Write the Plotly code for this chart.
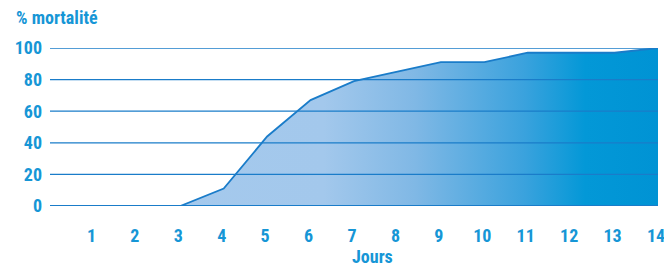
import plotly.graph_objects as go

days = list(range(0, 15))
mortality = [0, 0, 0, 0, 11, 44, 67, 79, 85, 91, 91, 97, 97, 97, 100]
x_ticks = list(range(1, 15))
y_ticks = [0, 20, 40, 60, 80, 100]

blue_text = "#1696d6"
line_col = "#1a7cc9"
font_fam = "Liberation Sans Narrow, Roboto Condensed, Arial Narrow, sans-serif"

fig = go.Figure()
fig.add_trace(go.Scatter(
    x=days, y=mortality, mode="lines",
    line=dict(color=line_col, width=1.8),
    fill="tozeroy",
    fillgradient=dict(type="horizontal", colorscale=[
        [0.0, "#a6caed"], [0.45, "#a3c8ec"], [0.6, "#80b8e5"],
        [0.78, "#3aa2dd"], [0.88, "#0398d7"], [1.0, "#0093d4"]]),
    cliponaxis=False, hoverinfo="skip", showlegend=False,
))

shapes = []
for yv in y_ticks:
    shapes.append(dict(type="line", xref="x", yref="y", x0=0, x1=14, y0=yv, y1=yv,
                       line=dict(color=line_col, width=2 if yv == 0 else 1.3), layer="above"))

tf = dict(family=font_fam, size=18, color=blue_text, weight="bold")
PW = 608
fig.update_layout(
    width=664, height=265,
    margin=dict(l=50, r=6, t=48, b=59, pad=0),
    paper_bgcolor="white", plot_bgcolor="white",
    shapes=shapes,
    xaxis=dict(range=[0, 14], tickvals=x_ticks, ticktext=[str(v) for v in x_ticks],
               showgrid=False, zeroline=False, showline=False, ticks="",
               tickfont=tf, ticklabelstandoff=17, automargin=False,
               ticklabeloverflow="allow", ticklabelshift=-2),
    yaxis=dict(range=[0, 100], tickvals=y_ticks, ticktext=[str(v) for v in y_ticks],
               showgrid=False, zeroline=False, showline=False, ticks="",
               tickfont=tf, ticklabelstandoff=7, automargin=False),
    annotations=[
        dict(text="% mortalité", xref="paper", yref="paper", x=-36 / PW, y=1,
             xanchor="left", yanchor="middle", yshift=31, showarrow=False,
             font=tf),
        dict(text="Jours", xref="paper", yref="paper", x=(372 - 50) / PW, y=0,
             xanchor="center", yanchor="middle", yshift=-50, showarrow=False,
             font=tf),
    ],
)

fig.write_html("out.html", config={"displayModeBar": False},
               post_script="document.body.style.margin='0';document.body.style.overflow='hidden';")
